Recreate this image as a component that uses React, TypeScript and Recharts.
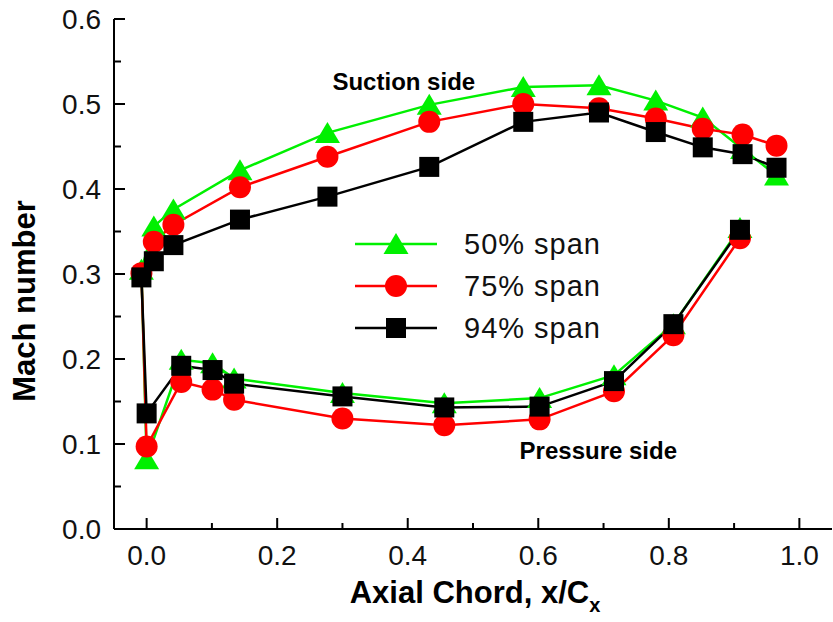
import React from "react";
import { LineChart, Line, XAxis, YAxis, Legend, ReferenceDot } from "recharts";

// x/Cx stations
const suctionX = [-0.008, 0.011, 0.041, 0.143, 0.277, 0.433, 0.577, 0.693, 0.78, 0.852, 0.913, 0.965];
const pressureX = [0.0, 0.053, 0.101, 0.134, 0.3, 0.456, 0.602, 0.716, 0.807, 0.909];

// Mach number, suction side / pressure side
const span50Suction = [0.305, 0.356, 0.376, 0.422, 0.466, 0.499, 0.52, 0.522, 0.504, 0.484, 0.447, 0.416];
const span50Pressure = [0.082, 0.199, 0.195, 0.177, 0.16, 0.148, 0.154, 0.181, 0.241, 0.354];
const span75Suction = [0.301, 0.338, 0.358, 0.402, 0.438, 0.479, 0.5, 0.495, 0.483, 0.471, 0.464, 0.451];
const span75Pressure = [0.097, 0.173, 0.164, 0.152, 0.13, 0.122, 0.129, 0.162, 0.228, 0.342];
const span94Suction = [0.296, 0.315, 0.334, 0.364, 0.391, 0.426, 0.479, 0.49, 0.467, 0.449, 0.441, 0.425];
const span94Pressure = [0.136, 0.192, 0.187, 0.171, 0.156, 0.143, 0.144, 0.174, 0.241, 0.352];

const xTicks = [0, 0.1, 0.2, 0.3, 0.4, 0.5, 0.6, 0.7, 0.8, 0.9, 1.0];
const yTicks = [0, 0.05, 0.1, 0.15, 0.2, 0.25, 0.3, 0.35, 0.4, 0.45, 0.5, 0.55, 0.6];

const FONT = "'Liberation Sans', Arial, sans-serif";

type Shape = "triangle" | "circle" | "square";

const series: { name: string; color: string; shape: Shape; suction: number[]; pressure: number[] }[] = [
  { name: "50% span", color: "#00f000", shape: "triangle", suction: span50Suction, pressure: span50Pressure },
  { name: "75% span", color: "#ff0000", shape: "circle", suction: span75Suction, pressure: span75Pressure },
  { name: "94% span", color: "#000000", shape: "square", suction: span94Suction, pressure: span94Pressure },
];

// pressure side from trailing edge to leading edge, then suction side
function buildLine(suction: number[], pressure: number[]) {
  const ps = pressureX.map((x, i) => ({ x, y: pressure[i] })).reverse();
  const ss = suctionX.map((x, i) => ({ x, y: suction[i] }));
  return [...ps, ...ss];
}

function Marker({ shape, cx, cy, color }: { shape: Shape; cx: number; cy: number; color: string }) {
  if (shape === "triangle") {
    return <polygon points={`${cx},${cy - 11} ${cx - 12.5},${cy + 10} ${cx + 12.5},${cy + 10}`} fill={color} />;
  }
  if (shape === "circle") return <circle cx={cx} cy={cy} r={11} fill={color} />;
  return <rect x={cx - 10} y={cy - 10} width={20} height={20} fill={color} />;
}

const isMajorX = (v: number) => Math.round(v * 10) % 2 === 0;
const isMajorY = (v: number) => Math.round(v * 100) % 10 === 0;

const BottomTick = (p: any) => {
  const v = p.payload.value;
  const major = isMajorX(v);
  return (
    <g>
      <line x1={p.x} x2={p.x} y1={p.y} y2={p.y - (major ? 11 : 6)} stroke="#000" strokeWidth={2} />
      {major && (
        <text x={p.x} y={p.y + 36} textAnchor="middle" fontSize={28} fontFamily={FONT} fill="#111">
          {v.toFixed(1)}
        </text>
      )}
    </g>
  );
};

const TopTick = (p: any) => {
  const major = isMajorX(p.payload.value);
  return <line x1={p.x} x2={p.x} y1={p.y} y2={p.y + (major ? 11 : 6)} stroke="#000" strokeWidth={2} />;
};

const LeftTick = (p: any) => {
  const v = p.payload.value;
  const major = isMajorY(v);
  return (
    <g>
      <line x1={p.x} x2={p.x + (major ? 11 : 7)} y1={p.y} y2={p.y} stroke="#000" strokeWidth={2} />
      {major && (
        <text x={p.x - 13} y={p.y + 10} textAnchor="end" fontSize={28} fontFamily={FONT} fill="#111">
          {v.toFixed(1)}
        </text>
      )}
    </g>
  );
};

const RightTick = (p: any) => {
  const major = isMajorY(p.payload.value);
  return <line x1={p.x} x2={p.x - (major ? 11 : 7)} y1={p.y} y2={p.y} stroke="#000" strokeWidth={2} />;
};

const renderLegend = (props: any) => {
  const payload = props.payload || [];
  return (
    <svg width={300} height={130}>
      {payload.map((entry: any, i: number) => {
        const s = series.find((d) => d.name === entry.value) || series[i];
        const cy = 24 + i * 42;
        return (
          <g key={s.name}>
            <line x1={15} x2={97} y1={cy} y2={cy} stroke={s.color} strokeWidth={2.5} />
            <Marker shape={s.shape} cx={56} cy={cy} color={s.color} />
            <text x={124} y={cy + 10} fontSize={29} fontFamily={FONT} fill="#111" letterSpacing={1}>
              {s.name}
            </text>
          </g>
        );
      })}
    </svg>
  );
};

const annotation = (text: string) => (p: any) => {
  const vb = p.viewBox || { x: 0, y: 0, width: 0, height: 0 };
  return (
    <text
      x={vb.x + vb.width / 2}
      y={vb.y + vb.height / 2}
      textAnchor="middle"
      fontSize={24}
      fontWeight="bold"
      fontFamily={FONT}
      fill="#000"
    >
      {text}
    </text>
  );
};

export default function App() {
  return (
    <div style={{ position: "absolute", left: 0, top: 0, width: 833, height: 622, background: "#fff" }}>
      <LineChart width={833} height={622} margin={{ top: 19, right: 1, bottom: 0, left: 0 }}>
        <XAxis
          dataKey="x"
          type="number"
          domain={[-0.05, 1.05]}
          allowDataOverflow
          ticks={xTicks}
          interval={0}
          height={93}
          tickSize={0}
          tickMargin={0}
          tickLine={false}
          tick={BottomTick}
          axisLine={{ stroke: "#000", strokeWidth: 2 }}
          label={{
            content: (p: any) => {
              const vb = p.viewBox || { x: 114, y: 529, width: 718, height: 93 };
              return (
                <text
                  x={vb.x + vb.width / 2 + 2}
                  y={vb.y + 74}
                  textAnchor="middle"
                  fontSize={31}
                  fontWeight="bold"
                  fontFamily={FONT}
                  fill="#000"
                >
                  Axial Chord, x/C
                  <tspan fontSize={20} dy={9}>x</tspan>
                </text>
              );
            },
          }}
        />
        <XAxis
          xAxisId="top"
          orientation="top"
          type="number"
          domain={[-0.05, 1.05]}
          allowDataOverflow
          ticks={xTicks}
          interval={0}
          height={0}
          tickSize={0}
          tickMargin={0}
          tickLine={false}
          tick={TopTick}
          axisLine={{ stroke: "#000", strokeWidth: 2 }}
        />
        <YAxis
          type="number"
          domain={[0, 0.6]}
          allowDataOverflow
          ticks={yTicks}
          interval={0}
          width={114}
          tickSize={0}
          tickMargin={0}
          tickLine={false}
          tick={LeftTick}
          axisLine={{ stroke: "#000", strokeWidth: 2 }}
          label={{
            content: (p: any) => {
              const vb = p.viewBox || { x: 0, y: 19, width: 114, height: 510 };
              const cx = vb.x + 24;
              const cy = vb.y + vb.height / 2 + 27;
              return (
                <text
                  x={cx}
                  y={cy}
                  transform={`rotate(-90 ${cx} ${cy})`}
                  textAnchor="middle"
                  dominantBaseline="central"
                  fontSize={31}
                  fontWeight="bold"
                  fontFamily={FONT}
                  fill="#000"
                >
                  Mach number
                </text>
              );
            },
          }}
        />
        <YAxis
          yAxisId="right"
          orientation="right"
          type="number"
          domain={[0, 0.6]}
          allowDataOverflow
          ticks={yTicks}
          interval={0}
          width={0}
          tickSize={0}
          tickMargin={0}
          tickLine={false}
          tick={RightTick}
          axisLine={{ stroke: "#000", strokeWidth: 2 }}
        />
        {series.map((s) => (
          <Line
            key={s.name}
            name={s.name}
            data={buildLine(s.suction, s.pressure)}
            dataKey="y"
            type="linear"
            stroke={s.color}
            strokeWidth={2.5}
            isAnimationActive={false}
            activeDot={false}
            dot={(p: any) => <Marker key={`${s.name}-${p.index}`} shape={s.shape} cx={p.cx} cy={p.cy} color={s.color} />}
          />
        ))}
        <ReferenceDot x={0.394} y={0.516} r={1} fill="none" stroke="none" label={{ content: annotation("Suction side") }} />
        <ReferenceDot x={0.692} y={0.0824} r={1} fill="none" stroke="none" label={{ content: annotation("Pressure side") }} />
        <Legend
          layout="vertical"
          align="center"
          verticalAlign="middle"
          content={renderLegend}
          wrapperStyle={{ left: 340, top: 220, width: 300, height: 130 }}
        />
      </LineChart>
    </div>
  );
}
